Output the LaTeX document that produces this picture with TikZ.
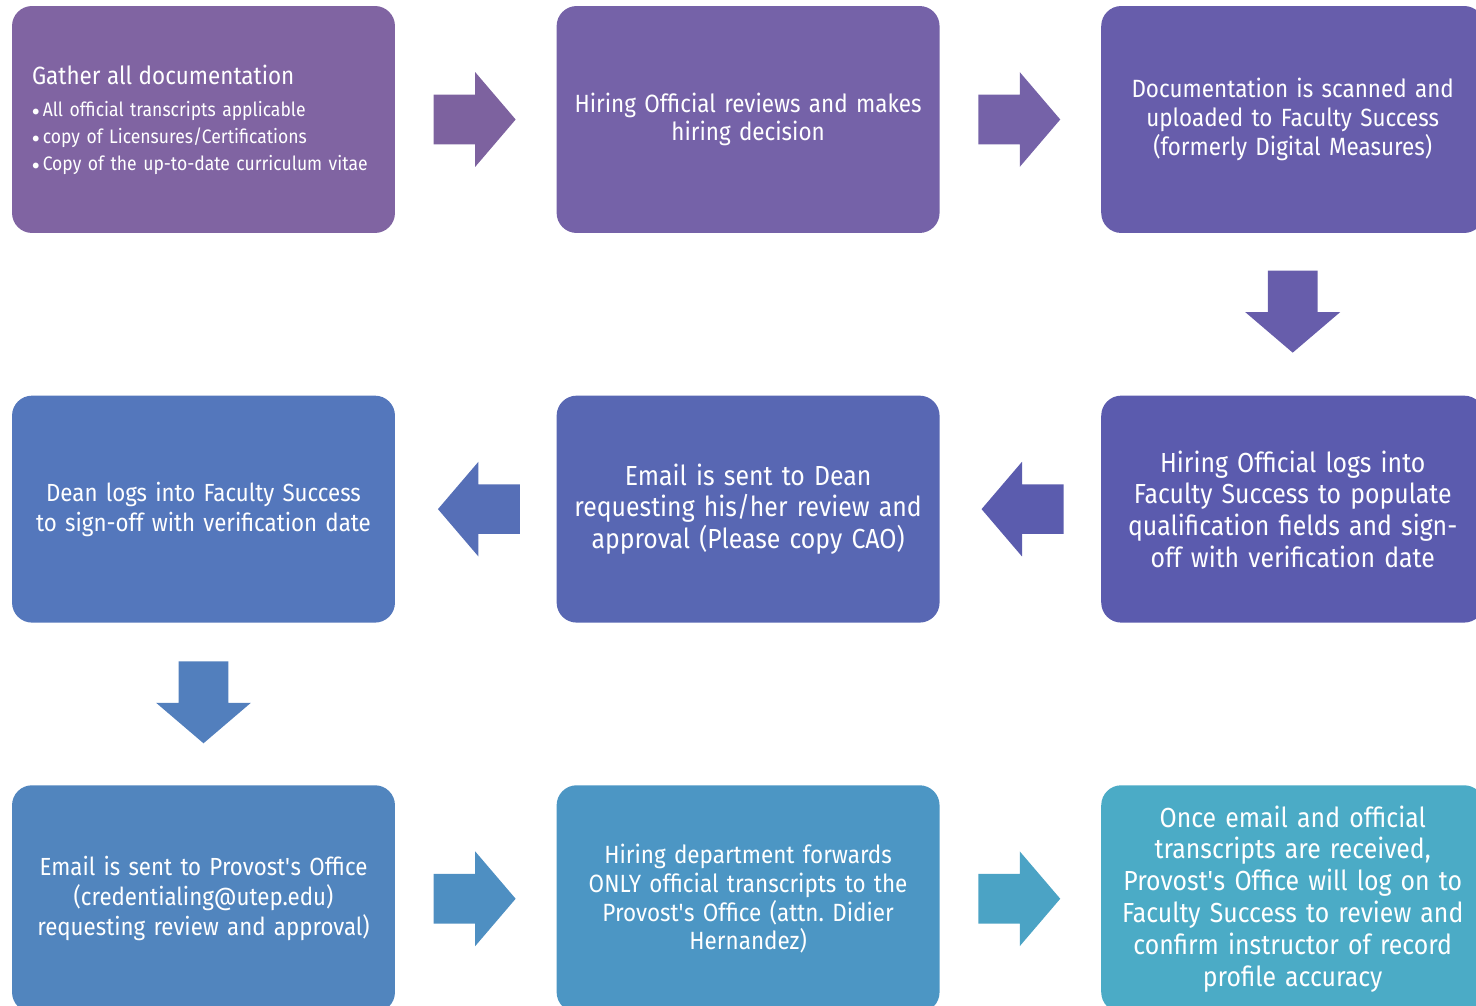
\documentclass[tikz,border=0pt]{standalone}
\usepackage{fontspec}
\setmainfont{Fira Sans}[FakeStretch=0.9]
\usetikzlibrary{positioning,shapes.arrows}

\definecolor{gatherclr}{HTML}{8064A2}
\definecolor{hiringclr}{HTML}{7562A8}
\definecolor{uploadclr}{HTML}{675DAB}
\definecolor{loginclr}{HTML}{5B5BAE}
\definecolor{deanmailclr}{HTML}{5867B3}
\definecolor{deansignclr}{HTML}{5477BC}
\definecolor{provmailclr}{HTML}{5185BE}
\definecolor{forwardclr}{HTML}{4C96C4}
\definecolor{confirmclr}{HTML}{4BABC6}

\newcommand{\sizeS}{\fontsize{11.1}{15.3}\selectfont}
\newcommand{\sizeA}{\fontsize{14.2}{16.4}\selectfont}
\newcommand{\sizeB}{\fontsize{14.1}{17}\selectfont}
\newcommand{\sizeC}{\fontsize{15.7}{18.1}\selectfont}
\newcommand{\blt}{\raisebox{0.1ex}{$\scriptstyle\bullet$}\,}

\begin{document}
\begin{tikzpicture}[%
    x=0.02cm,y=-0.02cm,node distance=3.22cm,
    stage/.style={%
      rounded corners=0.4cm,minimum width=7.66cm,minimum height=4.54cm,
      inner sep=0pt,text=white,align=center,text width=7.5cm},
    blockarrow/.style={%
      single arrow,minimum height=1.64cm,inner xsep=0pt,inner ysep=0.49cm,
      single arrow head extend=0.45cm,single arrow tip angle=99}
  ]
    \useasboundingbox (0,0) rectangle (1476,1006);
    \clip (0,0) rectangle (1476,1006);

    % first row
    \node[stage,fill=gatherclr,text width=6.86cm,align=left,font=\sizeS] (gather) at (203.5,119.5)
      {{\sizeA Gather all documentation}\\[3pt]
       \blt All official transcripts applicable\\
       \blt copy of Licensures/Certifications\\
       \blt Copy of the up-to-date curriculum vitae};
    \node[stage,fill=hiringclr,font=\sizeA] (hiring) [right=of gather]
      {Hiring Official reviews and makes\\hiring decision};
    \node[stage,fill=uploadclr,font=\sizeA] (upload) [right=of hiring]
      {Documentation is scanned and\\uploaded to Faculty Success\\(formerly Digital Measures)};

    % second row
    \node[stage,fill=loginclr,font=\sizeC] (login) [node distance=3.24cm, below=of upload]
      {Hiring Official logs into\\Faculty Success to populate\\qualification fields and sign-\\off with verification date};
    \node[stage,fill=deanmailclr,font=\sizeC] (deanmail) [left=of login]
      {Email is sent to Dean\\requesting his/her review and\\approval (Please copy CAO)};
    \node[stage,fill=deansignclr,font=\sizeB] (deansign) [left=of deanmail]
      {Dean logs into Faculty Success\\to sign-off with verification date};

    % third row
    \node[stage,fill=provmailclr,font=\sizeB] (provmail) [node distance=3.24cm, below=of deansign]
      {Email is sent to Provost\textquotesingle s Office\\(credentialing@utep.edu)\\requesting review and approval)};
    \node[stage,fill=forwardclr,font=\sizeA] (forward) [right=of provmail]
      {Hiring department forwards\\ONLY official transcripts to the\\Provost\textquotesingle s Office (attn.\ Didier\\Hernandez)};
    \node[stage,fill=confirmclr,font=\sizeC] (confirm) [right=of forward]
      {Once email and official\\transcripts are received,\\Provost\textquotesingle s Office will log on to\\Faculty Success to review and\\confirm instructor of record\\profile accuracy};

    % arrows between the stages
    \node[blockarrow,fill=gatherclr!98!black] (ga2hi) [right=0.76cm of gather.east,anchor=tail] {};
    \node[blockarrow,fill=hiringclr] (hi2up) [right=0.76cm of hiring.east,anchor=tail] {};
    \node[blockarrow,fill=uploadclr,rotate=-90] (up2lo) [below=0.74cm of upload.south,anchor=tail] {};
    \node[blockarrow,fill=loginclr!95!deanmailclr,rotate=180] (lo2de) [left=0.74cm of login.west,anchor=tail] {};
    \node[blockarrow,fill=deanmailclr!50!deansignclr,rotate=180] (de2ds) [left=0.72cm of deanmail.west,anchor=tail] {};
    \node[blockarrow,fill=deansignclr!40!provmailclr,rotate=-90] (ds2pm) [below=0.76cm of deansign.south,anchor=tail] {};
    \node[blockarrow,fill=provmailclr!40!forwardclr] (pm2fw) [right=0.76cm of provmail.east,anchor=tail] {};
    \node[blockarrow,fill=forwardclr!40!confirmclr] (fw2co) [right=0.76cm of forward.east,anchor=tail] {};
\end{tikzpicture}
\end{document}
